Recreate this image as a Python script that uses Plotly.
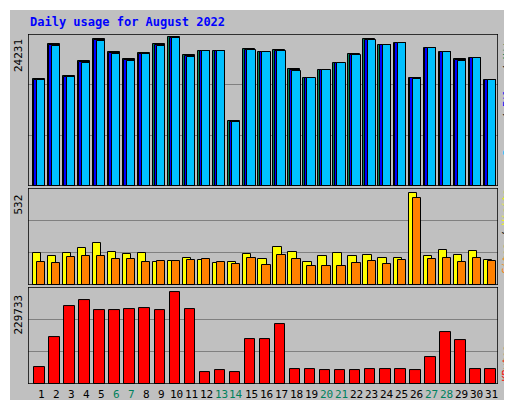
import plotly.graph_objects as go

days = list(range(1, 32))
weekend = [6, 7, 13, 14, 20, 21, 27, 28]

hits = [17470, 23080, 17970, 20280, 23900, 21760, 20600, 21590, 23080, 24231, 21260, 21920,
        21920, 10550, 22250, 21760, 22090, 18960, 17640, 18790, 19950, 21430, 23900, 22910,
        23240, 17640, 22420, 21760, 20600, 20770, 17310]
files = [17300, 22880, 17800, 20100, 23700, 21600, 20450, 21450, 22900, 24050, 21100, 21920,
         21920, 10400, 22100, 21760, 21950, 18800, 17640, 18790, 19950, 21300, 23750, 22910,
         23240, 17500, 22420, 21760, 20450, 20770, 17310]
pages = [17250, 22800, 17750, 20050, 23650, 21550, 20400, 21400, 22850, 24000, 21050, 21920,
         21920, 10350, 22050, 21760, 21900, 18750, 17640, 18790, 19950, 21250, 23700, 22910,
         23240, 17450, 22420, 21760, 20400, 20770, 17310]
sites = [185, 168, 185, 214, 243, 191, 179, 185, 133, 139, 156, 145, 127, 133, 179, 150,
         220, 191, 133, 168, 185, 168, 173, 156, 156, 532, 168, 202, 173, 197, 145]
visits = [133, 127, 162, 168, 168, 150, 150, 133, 139, 139, 145, 150, 133, 121, 156, 116,
          173, 150, 110, 110, 110, 127, 139, 121, 145, 503, 150, 156, 133, 156, 139]
kbytes = [42450, 117400, 194900, 210900, 185900, 183600, 188100, 190400, 185900, 229733,
          188100, 29970, 34970, 29970, 112400, 112400, 149900, 37460, 37460, 34970, 35970,
          35970, 37460, 37460, 37460, 35970, 67450, 129900, 109900, 37460, 37460]

fig = go.Figure()
mono = "DejaVu Sans Mono"

def bar(y, color, off, w, xa, ya):
    fig.add_trace(go.Bar(x=days, y=y, offset=off, width=w, marker_color=color,
                         marker_line=dict(color="black", width=1), xaxis=xa, yaxis=ya,
                         showlegend=False, hoverinfo="skip"))

bar(hits, "#00805c", -0.55, 0.8, "x", "y")
bar(files, "#0000ff", -0.45, 0.7, "x", "y")
bar(pages, "#00c0ff", -0.28, 0.55, "x", "y")
bar(sites, "#ffff00", -0.55, 0.55, "x2", "y2")
bar(visits, "#ff8000", -0.28, 0.55, "x2", "y2")
bar(kbytes, "#ff0000", -0.45, 0.7, "x3", "y3")

xr = [0.135, 31.4]
ax = dict(range=xr, showticklabels=False, showgrid=False, zeroline=False, fixedrange=True)
tops = [24231 * 150 / 147, 532 * 97 / 92, 229733 * 97 / 92]
doms = [[0.566, 1], [0.283, 0.56], [0, 0.277]]
lay = {}
for i, (top, dom) in enumerate(zip(tops, doms)):
    s = "" if i == 0 else str(i + 1)
    lay["xaxis" + s] = dict(ax, anchor="y" + s)
    lay["yaxis" + s] = dict(domain=dom, range=[0, top], tickvals=[top / 3, 2 * top / 3],
                            showticklabels=False, gridcolor="#808080", zeroline=False,
                            anchor="x" + s, fixedrange=True)
    fig.add_shape(type="rect", xref="x" + s, yref="y" + s, x0=xr[0], x1=xr[1], y0=0, y1=top,
                  line=dict(color="black", width=1.5))

maxes = [(24231, "y"), (532, "y2"), (229733, "y3")]
for val, ya in maxes:
    fig.add_annotation(x=0, xref="paper", y=val, yref=ya, text=str(val), textangle=-90,
                       showarrow=False, xanchor="right", yanchor="top", xshift=-1,
                       font=dict(family=mono, size=11, color="black"))

sides = [
    ('<span style="color:#00c0ff">Pages</span> / <span style="color:#0000ff">Files</span>'
     ' / <span style="color:#00805c">Hits</span>', "y", tops[0]),
    ('<span style="color:#ff8000">Sites</span> / <span style="color:#ffff00">Visits</span>', "y2", tops[1]),
    ('<span style="color:#ff0000">KBytes</span>', "y3", 0),
]
for text, ya, yv in sides:
    fig.add_annotation(x=1, xref="paper", y=yv, yref=ya, text=text, textangle=-90,
                       showarrow=False, xanchor="left", yanchor="top" if yv else "bottom",
                       xshift=1, font=dict(family=mono, size=10, color="black"))

for d in days:
    fig.add_annotation(x=d, xref="x3", y=0, yref="paper", text=str(d), showarrow=False,
                       yanchor="top", yshift=-2,
                       font=dict(family=mono, size=11,
                                 color="#00805c" if d in weekend else "black"))

fig.add_annotation(x=0, xref="paper", y=1, yref="paper", text="<b>Daily usage for August 2022</b>",
                   showarrow=False, xanchor="left", yanchor="bottom", yshift=3,
                   font=dict(family=mono, size=12, color="#0000ff"))
fig.add_shape(type="rect", xref="paper", yref="paper", x0=-19 / 470, x1=1 + 21 / 470,
              y0=-23 / 350, y1=1 + 25 / 350, line=dict(color="white", width=2))

fig.update_layout(width=512, height=400, margin=dict(l=20, r=22, t=26, b=24),
                  paper_bgcolor="#c0c0c0", plot_bgcolor="#c0c0c0", barmode="overlay",
                  bargap=0, **lay)
fig.write_html("out.html", config={"displayModeBar": False})
